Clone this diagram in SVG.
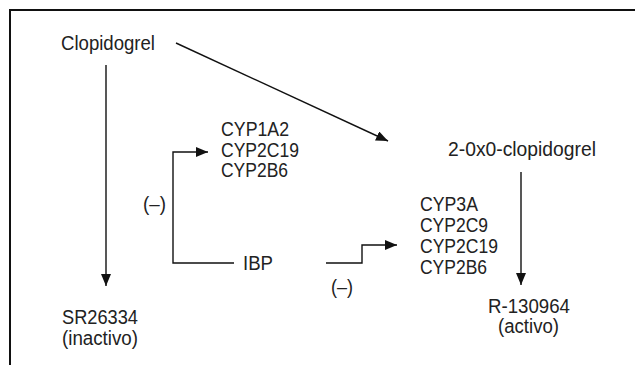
<svg xmlns="http://www.w3.org/2000/svg" width="635" height="365" viewBox="0 0 635 365">
<style>
text{font-family:"Liberation Sans",Arial,sans-serif;font-size:19.5px;fill:#222}
.ln{stroke:#111;stroke-width:1.4;fill:none}
.fr{stroke:#111;stroke-width:2;fill:none}
</style>
<defs>
<marker id="ah" markerUnits="userSpaceOnUse" markerWidth="12" markerHeight="10" refX="12" refY="5" orient="auto">
<path d="M0,0 L12,5 L0,10 Z" fill="#111"/>
</marker>
</defs>
<rect width="635" height="365" fill="#fff"/>
<path class="fr" d="M10,365 V10 H635"/>
<g id="connectors">
<line class="ln" x1="106" y1="65" x2="106" y2="286" marker-end="url(#ah)"/>
<line class="ln" x1="176" y1="43" x2="388" y2="141" marker-end="url(#ah)"/>
<line class="ln" x1="521" y1="172" x2="521" y2="285" marker-end="url(#ah)"/>
<polyline class="ln" points="234,263 173,263 173,152 208,152" marker-end="url(#ah)"/>
<polyline class="ln" points="326,263 362,263 362,245 397,245" marker-end="url(#ah)"/>
</g>
<g id="clopidogrel"><text x="61" y="50" textLength="94" lengthAdjust="spacingAndGlyphs">Clopidogrel</text></g>
<g id="sr26334">
<text x="62" y="324" textLength="76" lengthAdjust="spacingAndGlyphs">SR26334</text>
<text x="62" y="345" textLength="76" lengthAdjust="spacingAndGlyphs">(inactivo)</text>
</g>
<g id="oxo"><text x="448" y="156" textLength="148" lengthAdjust="spacingAndGlyphs">2-0x0-clopidogrel</text></g>
<g id="r130964">
<text x="488" y="313" textLength="82" lengthAdjust="spacingAndGlyphs">R-130964</text>
<text x="498" y="333" textLength="61" lengthAdjust="spacingAndGlyphs">(activo)</text>
</g>
<g id="cyp-a">
<text x="221" y="136" textLength="68" lengthAdjust="spacingAndGlyphs">CYP1A2</text>
<text x="221" y="157" textLength="78" lengthAdjust="spacingAndGlyphs">CYP2C19</text>
<text x="221" y="177" textLength="67" lengthAdjust="spacingAndGlyphs">CYP2B6</text>
</g>
<g id="cyp-b">
<text x="420" y="211" textLength="58" lengthAdjust="spacingAndGlyphs">CYP3A</text>
<text x="420" y="232" textLength="68" lengthAdjust="spacingAndGlyphs">CYP2C9</text>
<text x="420" y="253" textLength="78" lengthAdjust="spacingAndGlyphs">CYP2C19</text>
<text x="420" y="274" textLength="67" lengthAdjust="spacingAndGlyphs">CYP2B6</text>
</g>
<g id="ibp"><text x="243" y="270" textLength="30" lengthAdjust="spacingAndGlyphs">IBP</text></g>
<g id="inh1"><text x="143" y="211" textLength="23" lengthAdjust="spacingAndGlyphs">(–)</text></g>
<g id="inh2"><text x="331" y="294" textLength="22" lengthAdjust="spacingAndGlyphs">(–)</text></g>
</svg>
